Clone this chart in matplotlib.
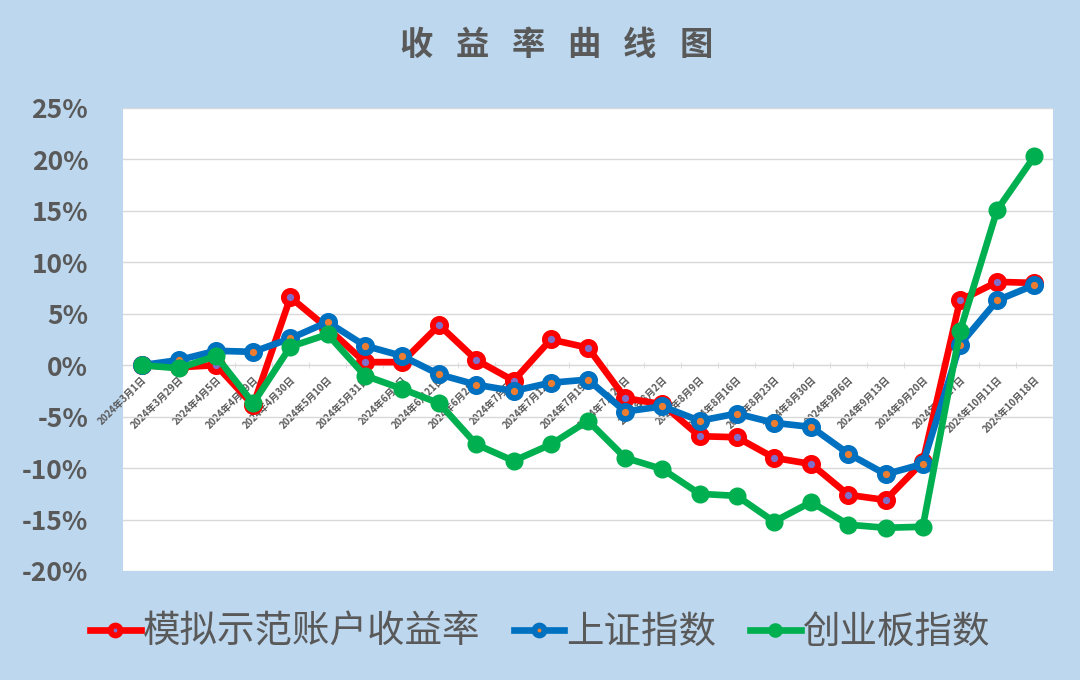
import numpy as np
import matplotlib.pyplot as plt
from matplotlib.ticker import FuncFormatter

plt.rcParams['font.family'] = ['Noto Sans CJK SC', 'DejaVu Sans']

dates = ['2024年3月1日', '2024年3月29日', '2024年4月5日', '2024年4月19日', '2024年4月30日',
         '2024年5月10日', '2024年5月31日', '2024年6月7日', '2024年6月21日', '2024年6月28日',
         '2024年7月5日', '2024年7月12日', '2024年7月19日', '2024年7月26日', '2024年8月2日',
         '2024年8月9日', '2024年8月16日', '2024年8月23日', '2024年8月30日', '2024年9月6日',
         '2024年9月13日', '2024年9月20日', '2024年9月27日', '2024年10月11日', '2024年10月18日']

demo = [0.0, -0.2, 0.0, -3.9, 6.6, 3.6, 0.3, 0.3, 3.9, 0.5, -1.5, 2.5, 1.7, -3.2, -3.8,
        -6.9, -7.0, -9.0, -9.6, -12.6, -13.1, -9.4, 6.3, 8.1, 8.0]
sh = [0.0, 0.5, 1.4, 1.3, 2.6, 4.2, 1.9, 0.9, -0.9, -1.9, -2.5, -1.7, -1.4, -4.5, -4.0,
      -5.4, -4.7, -5.6, -6.0, -8.6, -10.6, -9.6, 2.0, 6.3, 7.8]
cyb = [0.0, -0.3, 0.9, -3.7, 1.8, 3.0, -1.0, -2.3, -3.7, -7.7, -9.3, -7.7, -5.4, -9.0, -10.1,
       -12.5, -12.7, -15.2, -13.3, -15.5, -15.8, -15.7, 3.3, 15.1, 20.3]

title = '收益率曲线图'

bg = '#BDD7EE'
txt = '#595959'

fig = plt.figure(figsize=(10.8, 6.8), dpi=100, facecolor=bg)
ax = fig.add_axes([0.1139, 0.1603, 0.8611, 0.6809])
ax.set_facecolor('white')

x = np.arange(len(dates))
ax.plot(x, demo, color='#FF0000', lw=4.8, marker='o', ms=9.5, mec='#FF0000',
        mfc='#7F6FC8', mew=4.2, label='模拟示范账户收益率', zorder=3)
ax.plot(x, sh, color='#0070C0', lw=4.8, marker='o', ms=9.5, mec='#0070C0',
        mfc='#ED7D31', mew=4.2, label='上证指数', zorder=4)
ax.plot(x, cyb, color='#00B050', lw=4.8, marker='o', ms=10, mec='#00B050',
        mfc='#00B050', mew=3, label='创业板指数', zorder=5)

ax.set_xlim(-0.5, len(dates) - 0.5)
ax.set_ylim(-20, 25)
ax.set_yticks(np.arange(-20, 26, 5))
ax.yaxis.set_major_formatter(FuncFormatter(lambda v, p: f'{v:.0f}%'))
ax.grid(axis='y', color='#D9D9D9', lw=1)
ax.set_axisbelow(True)
ax.tick_params(axis='y', length=0, labelsize=19, labelcolor=txt, pad=25)
for lab in ax.get_yticklabels():
    lab.set_fontweight('bold')

for s in ['top', 'right', 'left']:
    ax.spines[s].set_visible(False)
ax.spines['bottom'].set_position(('data', 0))
ax.spines['bottom'].set_color('#D9D9D9')
ax.set_xticks(x)
ax.set_xticklabels(dates, rotation=45, ha='right', rotation_mode='anchor',
                   fontsize=7, color=txt, fontweight='bold')
ax.set_xticks(x[:-1] + 0.5, minor=True)
ax.tick_params(axis='x', which='major', length=0, pad=7)
ax.tick_params(axis='x', which='minor', length=4, direction='inout', color='#D9D9D9')

# title with wide letter spacing
for i, ch in enumerate(title):
    fig.text((416 + 56 * i) / 1080, 0.933, ch, ha='center', va='center',
             fontsize=24, fontweight='bold', color=txt)

fig.legend(loc='center', bbox_to_anchor=(0.5, 0.07), ncol=3, frameon=False,
           fontsize=27, labelcolor=txt, handlelength=1.35, handletextpad=0.05,
           columnspacing=0.9, markerscale=0.75)

fig.savefig('out.png', dpi=100, facecolor=bg)
